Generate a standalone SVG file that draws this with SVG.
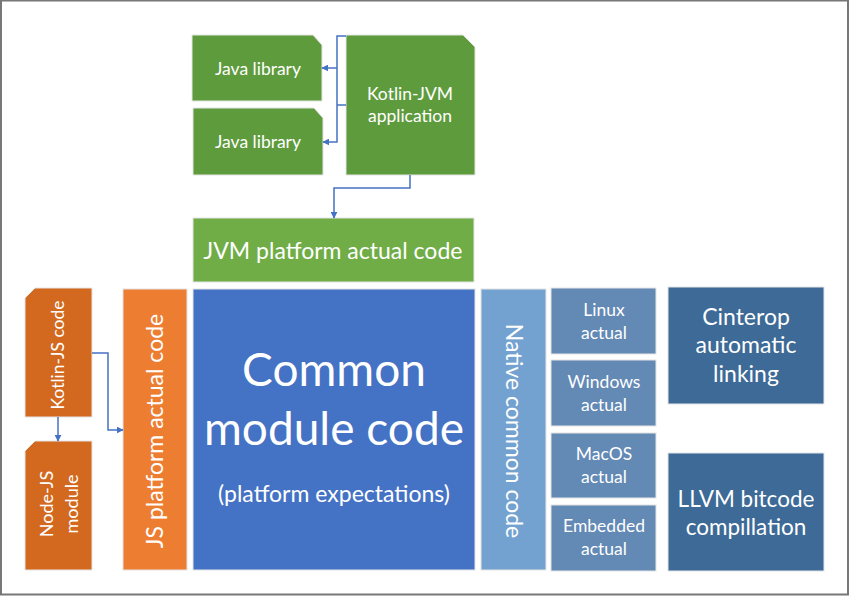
<svg xmlns="http://www.w3.org/2000/svg" width="850" height="596" viewBox="0 0 850 596">
<defs>
<style>
.t{font-family:Lato,"Open Sans","Liberation Sans",sans-serif;fill:#ffffff;text-anchor:middle}
.box{stroke:#e4e4e4;stroke-width:1}
.con{fill:none;stroke:#4472C4;stroke-width:1.5}
</style>
<marker id="ah" viewBox="0 0 10 10" refX="9" refY="5" markerWidth="7" markerHeight="7" orient="auto" markerUnits="userSpaceOnUse">
<path d="M0,0 L10,5 L0,10 z" fill="#4472C4"/>
</marker>
</defs>
<rect x="0" y="0" width="850" height="596" fill="#ffffff"/>
<rect x="1" y="0.5" width="847" height="594" fill="none" stroke="#777777" stroke-width="2"/>

<g id="java-lib-1">
<path class="box" d="M192,35 H313 L322,45 V101 H192 Z" fill="#5E9B3D"/>
<text class="t" x="258" y="75" font-size="17.5">Java library</text>
</g>
<g id="java-lib-2">
<path class="box" d="M193,108 H314 L323,118 V175 H193 Z" fill="#5E9B3D"/>
<text class="t" x="258" y="148" font-size="17.5">Java library</text>
</g>
<g id="kotlin-jvm">
<path class="box" d="M346,35 H463 L475,47 V175 H346 Z" fill="#5E9B3D"/>
<text class="t" x="410" y="100" font-size="17.5">Kotlin-JVM</text>
<text class="t" x="410" y="122" font-size="17.5">application</text>
</g>
<g id="jvm-platform">
<rect class="box" x="193" y="218" width="281" height="64" fill="#70AD47"/>
<text class="t" x="333" y="259" font-size="23">JVM platform actual code</text>
</g>
<g id="common">
<rect class="box" x="193" y="289" width="282" height="281" fill="#4472C4"/>
<text class="t" x="334" y="386" font-size="46">Common</text>
<text class="t" x="334" y="445" font-size="46">module code</text>
<text class="t" x="334" y="502" font-size="23">(platform expectations)</text>
</g>
<g id="js-platform">
<rect class="box" x="123" y="289" width="64" height="281" fill="#ED7D31"/>
<text class="t" transform="translate(163,431) rotate(-90)" font-size="23">JS platform actual code</text>
</g>
<g id="kotlin-js">
<path class="box" d="M35,288 H92 V417 H25 V298 Z" fill="#D2691F"/>
<text class="t" transform="translate(64,355) rotate(-90)" font-size="17.5">Kotlin-JS code</text>
</g>
<g id="node-js">
<path class="box" d="M35,441 H92 V570 H25 V451 Z" fill="#D2691F"/>
<text class="t" transform="translate(53,504) rotate(-90)" font-size="18">Node-JS</text>
<text class="t" transform="translate(78,504) rotate(-90)" font-size="18">module</text>
</g>
<g id="native-common">
<rect class="box" x="481" y="289" width="65" height="281" fill="#74A2D0"/>
<text class="t" transform="translate(506,431) rotate(90)" font-size="23">Native common code</text>
</g>
<g id="linux">
<rect class="box" x="551" y="288" width="105" height="66" fill="#6389B5"/>
<text class="t" x="604" y="316" font-size="17.5">Linux</text>
<text class="t" x="604" y="339" font-size="17.5">actual</text>
</g>
<g id="windows">
<rect class="box" x="551" y="360" width="105" height="66" fill="#6389B5"/>
<text class="t" x="604" y="388" font-size="17.5">Windows</text>
<text class="t" x="604" y="411" font-size="17.5">actual</text>
</g>
<g id="macos">
<rect class="box" x="551" y="433" width="105" height="65" fill="#6389B5"/>
<text class="t" x="604" y="460" font-size="17.5">MacOS</text>
<text class="t" x="604" y="483" font-size="17.5">actual</text>
</g>
<g id="embedded">
<rect class="box" x="551" y="505" width="105" height="66" fill="#6389B5"/>
<text class="t" x="604" y="532" font-size="17.5">Embedded</text>
<text class="t" x="604" y="555" font-size="17.5">actual</text>
</g>
<g id="cinterop">
<rect class="box" x="668" y="287" width="156" height="117" fill="#3D6A96"/>
<text class="t" x="746" y="325" font-size="23">Cinterop</text>
<text class="t" x="746" y="353" font-size="23">automatic</text>
<text class="t" x="746" y="382" font-size="23">linking</text>
</g>
<g id="llvm">
<rect class="box" x="668" y="453" width="156" height="118" fill="#3D6A96"/>
<text class="t" x="746" y="507" font-size="22.5">LLVM bitcode</text>
<text class="t" x="746" y="535" font-size="22.5">compillation</text>
</g>

<g id="connectors">
<path class="con" d="M346,36 H337 V142 H323" marker-end="url(#ah)"/>
<path class="con" d="M337,68 H322" marker-end="url(#ah)"/>
<path class="con" d="M346,105 H337"/>
<path class="con" d="M410,175 V188 H334 V218" marker-end="url(#ah)"/>
<path class="con" d="M58,417 V441" marker-end="url(#ah)"/>
<path class="con" d="M92,353 H108 V430 H123" marker-end="url(#ah)"/>
</g>
</svg>
